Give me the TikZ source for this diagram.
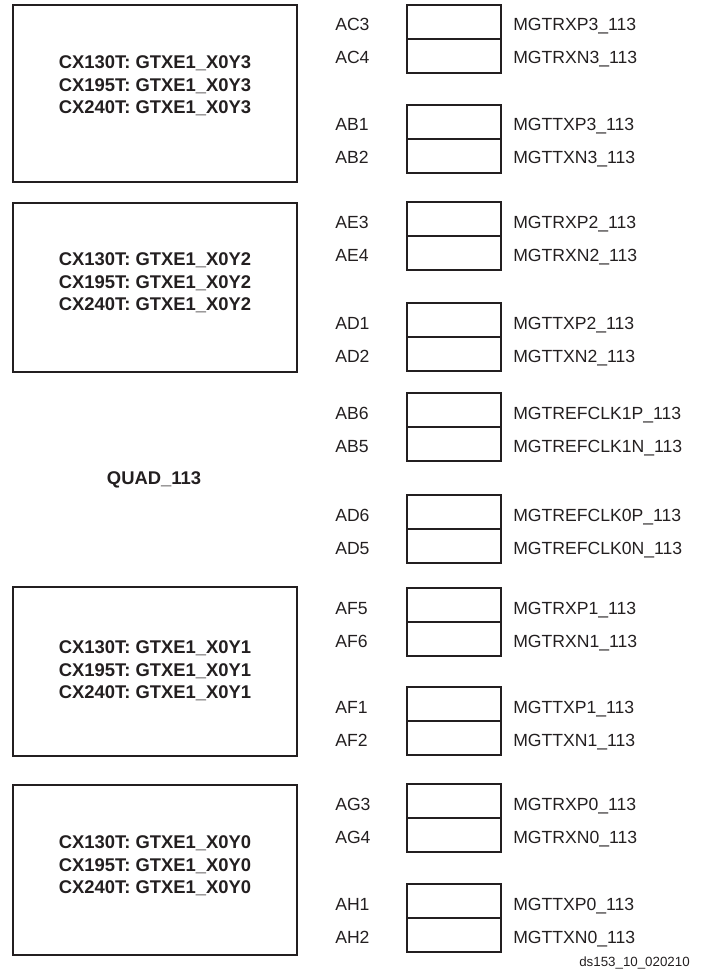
\documentclass[tikz,border=0pt]{standalone}
\usepackage{fontspec}
\setmainfont{Liberation Sans}
\usetikzlibrary{positioning}
\definecolor{inkgray}{RGB}{35,31,32}
\tikzset{
  gtbox/.style={draw=inkgray, line width=1.5pt, minimum width=213pt, inner sep=0pt},
  gttext/.style={text=inkgray, font=\bfseries\fontsize{13.8}{16.9}\selectfont, align=center, inner sep=0pt},
  pincell/.style={draw=inkgray, line width=1.5pt, minimum width=70.5pt, minimum height=25.5pt, inner sep=0pt},
  pinname/.style={text=inkgray, font=\fontsize{13.2}{15}\selectfont, anchor=base west, inner sep=0pt},
}
\begin{document}
\begin{tikzpicture}[x=0.75pt, y=-0.75pt]
                \useasboundingbox (0,0) rectangle (710,977);

                \node[gtbox, minimum height=132.75pt] (Y3) at (155,93.5) {};
                \node[gtbox, minimum height=126.75pt] (Y2) at (155,287.5) {};
                \node[gtbox, minimum height=126.75pt] (Y1) at (155,671.5) {};
                \node[gtbox, minimum height=127.5pt] (Y0) at (155,870) {};
                \foreach \q/\c in {Y3/86, Y2/283, Y1/671, Y0/866}
                    \node[gttext] (\q-text) at (155,\c) {CX130T: GTXE1\_X0\q\\CX195T: GTXE1\_X0\q\\CX240T: GTXE1\_X0\q};
                \node[gttext] (quad) at (154,480) {QUAD\_113};

                \foreach \t/\pa/\pb/\sa/\sb in {5/AC3/AC4/MGTRXP3/MGTRXN3, 105/AB1/AB2/MGTTXP3/MGTTXN3,
                        202/AE3/AE4/MGTRXP2/MGTRXN2, 303/AD1/AD2/MGTTXP2/MGTTXN2,
                        393/AB6/AB5/MGTREFCLK1P/MGTREFCLK1N, 495/AD6/AD5/MGTREFCLK0P/MGTREFCLK0N,
                        588/AF5/AF6/MGTRXP1/MGTRXN1, 687/AF1/AF2/MGTTXP1/MGTTXN1,
                        784/AG3/AG4/MGTRXP0/MGTRXN0, 884/AH1/AH2/MGTTXP0/MGTTXN0} {
                    \node[pincell] (\pa) at (454,\t+17) {};
                    \node[pincell] (\pb) at (454,\t+51) {};
                    \node[pinname] (\pa-pin) at (335,\t+26) {\pa};
                    \node[pinname] (\pb-pin) at (335,\t+59) {\pb};
                    \node[pinname] (\pa-sig) at (513,\t+26) {\sa\_113};
                    \node[pinname] (\pb-sig) at (513,\t+59) {\sb\_113};
                }

                \node[text=inkgray, font=\fontsize{10}{12}\selectfont, inner sep=0pt] (figid) at (634.5,963) {ds153\_10\_020210};
            \end{tikzpicture}
\end{document}
